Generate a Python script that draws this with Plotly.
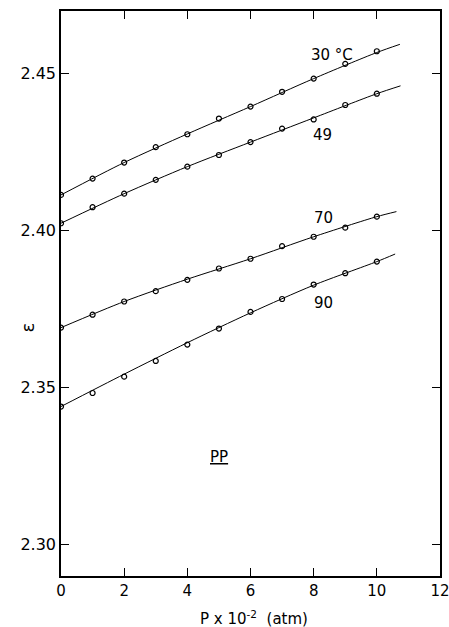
import plotly.graph_objects as go

# measured points (P x 10^-2 atm)
pressure = [0, 1, 2, 3, 4, 5, 6, 7, 8, 9, 10]
eps_30 = [2.4113, 2.4165, 2.4216, 2.4265, 2.4306, 2.4356, 2.4394, 2.4441, 2.4483, 2.4530, 2.4570]
eps_49 = [2.4023, 2.4074, 2.4117, 2.4161, 2.4203, 2.4240, 2.4281, 2.4324, 2.4353, 2.4399, 2.4435]
eps_70 = [2.3691, 2.3732, 2.3774, 2.3807, 2.3843, 2.3879, 2.3910, 2.3950, 2.3980, 2.4009, 2.4044]
eps_90 = [2.3440, 2.3483, 2.3535, 2.3585, 2.3637, 2.3688, 2.3741, 2.3782, 2.3828, 2.3864, 2.3901]

# fitted curves
fit_x_30 = [0, 2, 4, 6, 8, 10, 10.73]
fit_30 = [2.4113, 2.4216, 2.4307, 2.4394, 2.4483, 2.4566, 2.4592]
fit_x_49 = [0, 2, 4, 6, 8, 10, 10.75]
fit_49 = [2.4023, 2.4117, 2.4203, 2.4281, 2.4358, 2.4435, 2.4460]
fit_x_70 = [0, 2, 4, 6, 8, 10, 10.62]
fit_70 = [2.3691, 2.3774, 2.3845, 2.3910, 2.3980, 2.4044, 2.4060]
fit_x_90 = [0, 2, 4, 6, 8, 10, 10.58]
fit_90 = [2.3440, 2.3543, 2.3643, 2.3738, 2.3826, 2.3901, 2.3925]

x_ticks = [0, 2, 4, 6, 8, 10, 12]
y_ticks = [2.30, 2.35, 2.40, 2.45]
y_ticktext = ["2.30", "2.35", "2.40", "2.45"]

series_labels = ["30 °C", "49", "70", "90"]
label_x = [8.58, 8.29, 8.32, 8.30]
label_y = [2.4558, 2.4304, 2.4041, 2.3768]

FONT = "DejaVu Sans"
fig = go.Figure()

for fx, fy in [(fit_x_30, fit_30), (fit_x_49, fit_49), (fit_x_70, fit_70), (fit_x_90, fit_90)]:
    fig.add_trace(go.Scatter(x=fx, y=fy, mode="lines", line=dict(color="black", width=1, shape="spline", smoothing=0.8),
                             showlegend=False, hoverinfo="skip"))

for ys in [eps_30, eps_49, eps_70, eps_90]:
    fig.add_trace(go.Scatter(x=pressure, y=ys, mode="markers",
                             marker=dict(symbol="circle-open", size=5, color="black", line=dict(width=1.2, color="black")),
                             showlegend=False))

for t, lx, ly in zip(series_labels, label_x, label_y):
    fig.add_annotation(x=lx, y=ly, text=t, showarrow=False, font=dict(family=FONT, size=15, color="black"))

fig.add_annotation(x=5.0, y=2.328, text="<u>PP</u>", showarrow=False, font=dict(family=FONT, size=15, color="black"))

# axis titles as annotations for precise placement
fig.add_annotation(xref="paper", yref="paper", x=-0.121, y=0.439, text="ε", textangle=-90, showarrow=False,
                   font=dict(family=FONT, size=18, color="black"))
fig.add_annotation(xref="paper", yref="paper", x=0.509, y=-0.074, yanchor="middle",
                   text="P x 10<sup>-2</sup>  (atm)", showarrow=False,
                   font=dict(family=FONT, size=15, color="black"))

fig.update_layout(
    width=449, height=627,
    margin=dict(l=61, r=9, t=11, b=51),
    paper_bgcolor="white", plot_bgcolor="white",
    font=dict(family=FONT, size=15, color="black"),
    xaxis=dict(range=[0, 12], tickvals=x_ticks, ticks="inside", ticklen=8, tickwidth=1.2, tickcolor="black",
               showline=True, linecolor="black", linewidth=1.5, mirror="ticks", showgrid=False, zeroline=False,
               tickfont=dict(size=15), automargin=False, ticklabeloverflow="allow"),
    yaxis=dict(range=[2.2901, 2.4698], tickvals=y_ticks, ticktext=y_ticktext, ticks="inside", ticklen=8,
               tickwidth=1.2, tickcolor="black",
               showline=True, linecolor="black", linewidth=1.5, mirror="ticks", showgrid=False, zeroline=False,
               tickfont=dict(size=16), automargin=False, ticklabeloverflow="allow"),
)

# remove the default page margin so the figure fills the 449x627 window exactly
fig.write_html("out.html", config={"displayModeBar": False},
               post_script="document.body.style.margin='0';document.documentElement.style.overflow='hidden';")
